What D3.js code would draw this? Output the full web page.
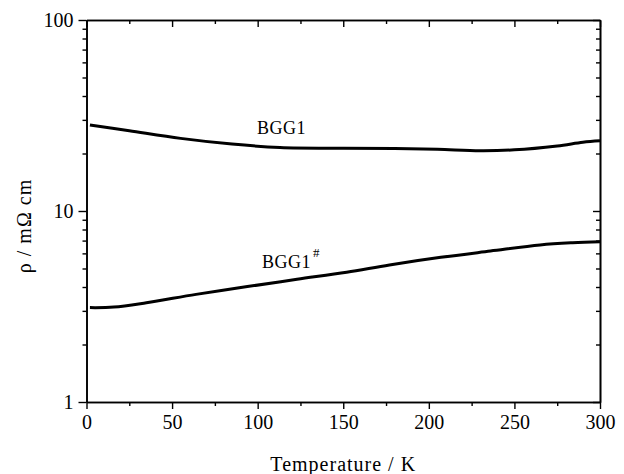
<!DOCTYPE html>
<html>
<head>
<meta charset="utf-8">
<script src="https://cdn.jsdelivr.net/npm/d3@7"></script>
<style>
  body { margin: 0; background: #fff; }
  svg { display: block; }
</style>
</head>
<body>
<svg width="624" height="474"></svg>
<script>
// data
const tempBGG1 = [2, 25, 55, 85, 113, 150, 180, 205, 230, 250, 275, 290, 300];
const rhoBGG1  = [28.2, 26.3, 24.0, 22.4, 21.5, 21.3, 21.25, 21.05, 20.7, 20.9, 21.9, 22.9, 23.3];

const tempBGG1h = [2, 16, 35, 64, 94, 123, 152, 177, 207, 236, 265, 284, 300];
const rhoBGG1h  = [3.12, 3.14, 3.31, 3.66, 4.02, 4.39, 4.78, 5.22, 5.72, 6.17, 6.64, 6.82, 6.91];

const xMajor = [0, 50, 100, 150, 200, 250, 300];
const xMinor = [25, 75, 125, 175, 225, 275];
const yMajor = [1, 10, 100];
const yMinor = [2, 3, 4, 5, 6, 7, 8, 9, 20, 30, 40, 50, 60, 70, 80, 90];

const serif = "'Liberation Serif', 'Times New Roman', 'DejaVu Serif', serif";

const svg = d3.select("svg").style("font-family", serif);
const m = {left: 86.5, right: 600, top: 20, bottom: 402};

const x = d3.scaleLinear().domain([0, 300]).range([m.left, m.right]);
const y = d3.scaleLog().domain([1, 100]).range([m.bottom, m.top]);

function axisGroup(axis, tx, ty) {
    let g = svg.append("g")
        .attr("transform", `translate(${tx},${ty})`)
        .call(axis)
        .attr("font-family", null)
        .attr("font-size", null);
    g.select(".domain").attr("stroke", "#000").attr("stroke-width", 1.6);
    g.selectAll(".tick line").attr("stroke", "#000").attr("stroke-width", 1.4);
    g.selectAll("text").style("font-family", serif).style("font-size", "20px").attr("fill", "#000");
    return g;
}

// minor ticks first so major ones sit on top
axisGroup(d3.axisBottom(x).tickValues(xMinor).tickSize(4).tickSizeOuter(0).tickFormat(""), 0, m.bottom);
axisGroup(d3.axisTop(x).tickValues(xMinor).tickSize(-4).tickSizeOuter(0).tickFormat(""), 0, m.top);
axisGroup(d3.axisLeft(y).tickValues(yMinor).tickSize(4).tickSizeOuter(0).tickFormat(""), m.left, 0);
axisGroup(d3.axisRight(y).tickValues(yMinor).tickSize(-4).tickSizeOuter(0).tickFormat(""), m.right, 0);

axisGroup(d3.axisBottom(x).tickValues(xMajor).tickSize(7).tickSizeOuter(0).tickPadding(6), 0, m.bottom);
axisGroup(d3.axisTop(x).tickValues(xMajor).tickSize(-7).tickSizeOuter(0).tickFormat(""), 0, m.top);
axisGroup(d3.axisLeft(y).tickValues(yMajor).tickSize(8).tickSizeOuter(0).tickPadding(5).tickFormat(d3.format("d")), m.left, 0);
axisGroup(d3.axisRight(y).tickValues(yMajor).tickSize(-7).tickSizeOuter(0).tickFormat(""), m.right, 0);

const line = d3.line()
    .x(d => x(d[0]))
    .y(d => y(d[1]))
    .curve(d3.curveCatmullRom.alpha(0.5));

svg.append("path")
    .datum(d3.zip(tempBGG1, rhoBGG1))
    .attr("fill", "none")
    .attr("stroke", "#000")
    .attr("stroke-width", 3)
    .attr("d", line);

svg.append("path")
    .datum(d3.zip(tempBGG1h, rhoBGG1h))
    .attr("fill", "none")
    .attr("stroke", "#000")
    .attr("stroke-width", 3)
    .attr("d", line);

// curve labels
svg.append("text")
    .attr("x", 257).attr("y", 134)
    .style("font-size", "18px")
    .style("letter-spacing", "0.5px")
    .text("BGG1");

let lab = svg.append("text")
    .attr("x", 262).attr("y", 268)
    .style("font-size", "18px")
    .style("letter-spacing", "0.5px");
lab.append("tspan").text("BGG1");
lab.append("tspan").attr("dx", 2).attr("dy", -11).style("font-size", "13px").text("#");

// axis titles
svg.append("text")
    .attr("x", (m.left + m.right) / 2)
    .attr("y", 471)
    .attr("text-anchor", "middle")
    .style("font-size", "20px")
    .style("letter-spacing", "1px")
    .text("Temperature / K");

svg.append("text")
    .attr("transform", `translate(31,226) rotate(-90)`)
    .attr("text-anchor", "middle")
    .style("font-size", "20px")
    .style("letter-spacing", "1px")
    .text("ρ / mΩ cm");
</script>
</body>
</html>
